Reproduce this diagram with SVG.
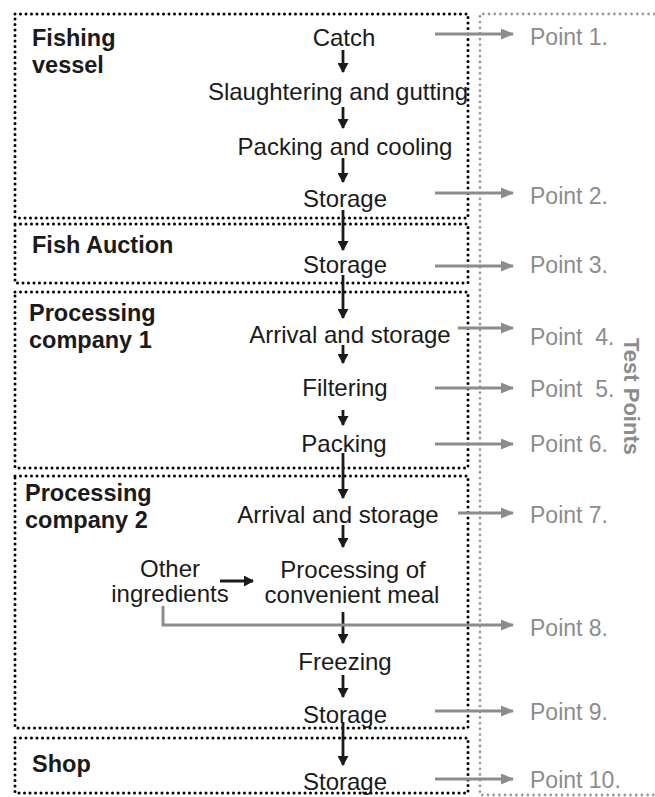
<svg xmlns="http://www.w3.org/2000/svg" width="655" height="797" viewBox="0 0 655 797">
<style>
.t{font-family:"Liberation Sans",Arial,sans-serif;font-size:24px;fill:#1a1a1a;text-anchor:middle}
.b{font-family:"Liberation Sans",Arial,sans-serif;font-size:23.5px;font-weight:bold;fill:#1a1a1a}
.p{font-family:"Liberation Sans",Arial,sans-serif;font-size:23px;fill:#8c8c8c;white-space:pre}
.tp{font-family:"Liberation Sans",Arial,sans-serif;font-size:22px;font-weight:bold;fill:#8c8c8c}
.box{fill:none;stroke:#000;stroke-width:3;stroke-dasharray:0 5.5;stroke-linecap:round}
.gbox{fill:none;stroke:#9a9a9a;stroke-width:2.8;stroke-dasharray:0 5.7;stroke-linecap:round}
.ba{fill:none;stroke:#1a1a1a;stroke-width:2.8;marker-end:url(#bh)}
.ga{fill:none;stroke:#8c8c8c;stroke-width:3;marker-end:url(#gh)}
</style>
<defs>
<marker id="bh" markerUnits="userSpaceOnUse" markerWidth="11" markerHeight="11" refX="9" refY="5.5" orient="auto"><path d="M0,0 L10,5.5 L0,11 z" fill="#1a1a1a"/></marker>
<marker id="gh" markerUnits="userSpaceOnUse" markerWidth="13" markerHeight="11" refX="12" refY="5.5" orient="auto"><path d="M0,0 L13,5.5 L0,11 z" fill="#8c8c8c"/></marker>
</defs>
<rect width="655" height="797" fill="#fff"/>
<g id="test-points">
<path class="gbox" d="M660,14 H480 V795 H660"/>
<text class="tp" transform="translate(624,338) rotate(90)">Test Points</text>
</g>
<g id="fishing-vessel">
<rect class="box" x="15" y="14" width="453" height="204"/>
<text class="b" x="32" y="46">Fishing</text>
<text class="b" x="32" y="73">vessel</text>
</g>
<g id="fish-auction">
<rect class="box" x="15" y="224" width="453" height="59"/>
<text class="b" x="32" y="253">Fish Auction</text>
</g>
<g id="processing-company-1">
<rect class="box" x="15" y="292" width="453" height="176"/>
<text class="b" x="29" y="321">Processing</text>
<text class="b" x="29" y="348">company 1</text>
</g>
<g id="processing-company-2">
<rect class="box" x="15" y="476" width="453" height="252"/>
<text class="b" x="25" y="501">Processing</text>
<text class="b" x="25" y="528">company 2</text>
</g>
<g id="shop">
<rect class="box" x="15" y="738" width="453" height="55"/>
<text class="b" x="32" y="772">Shop</text>
</g>
<g id="steps">
<text class="t" x="344" y="46">Catch</text>
<text class="t" x="338" y="100">Slaughtering and gutting</text>
<text class="t" x="345" y="155">Packing and cooling</text>
<text class="t" x="345" y="207">Storage</text>
<text class="t" x="345" y="273">Storage</text>
<text class="t" x="350" y="343">Arrival and storage</text>
<text class="t" x="345" y="396">Filtering</text>
<text class="t" x="344" y="452">Packing</text>
<text class="t" x="338" y="523">Arrival and storage</text>
<text class="t" x="353" y="578">Processing of</text>
<text class="t" x="352" y="603">convenient meal</text>
<text class="t" x="170" y="577">Other</text>
<text class="t" x="170" y="602">ingredients</text>
<text class="t" x="345" y="670">Freezing</text>
<text class="t" x="345" y="723">Storage</text>
<text class="t" x="345" y="790">Storage</text>
</g>
<g id="points">
<text class="p" x="530" y="45">Point 1.</text>
<text class="p" x="530" y="204">Point 2.</text>
<text class="p" x="530" y="273">Point 3.</text>
<text class="p" x="530" y="345">Point  4.</text>
<text class="p" x="530" y="397">Point  5.</text>
<text class="p" x="530" y="452">Point 6.</text>
<text class="p" x="530" y="523">Point 7.</text>
<text class="p" x="530" y="636">Point 8.</text>
<text class="p" x="530" y="720">Point 9.</text>
<text class="p" x="530" y="788">Point 10.</text>
</g>
<g id="connectors">
<path class="ba" d="M343,50 V72"/>
<path class="ba" d="M343,107 V128"/>
<path class="ba" d="M343,158 V182"/>
<path class="ba" d="M343,210 V250"/>
<path class="ba" d="M343,275 V318"/>
<path class="ba" d="M343,345 V363"/>
<path class="ba" d="M343,410 V425"/>
<path class="ba" d="M343,453 V498"/>
<path class="ba" d="M343,525 V547"/>
<path class="ba" d="M343,612 V643"/>
<path class="ba" d="M343,675 V697"/>
<path class="ba" d="M343,722 V765"/>
<path class="ba" d="M220,581 H253"/>
<path class="ga" d="M435,34 H513"/>
<path class="ga" d="M435,193 H513"/>
<path class="ga" d="M435,266 H513"/>
<path class="ga" d="M458,328 H513"/>
<path class="ga" d="M435,388 H513"/>
<path class="ga" d="M435,444 H513"/>
<path class="ga" d="M458,513 H513"/>
<path class="ga" d="M163,606 V625 H513"/>
<path class="ga" d="M435,711 H513"/>
<path class="ga" d="M435,779 H513"/>
</g>
</svg>
